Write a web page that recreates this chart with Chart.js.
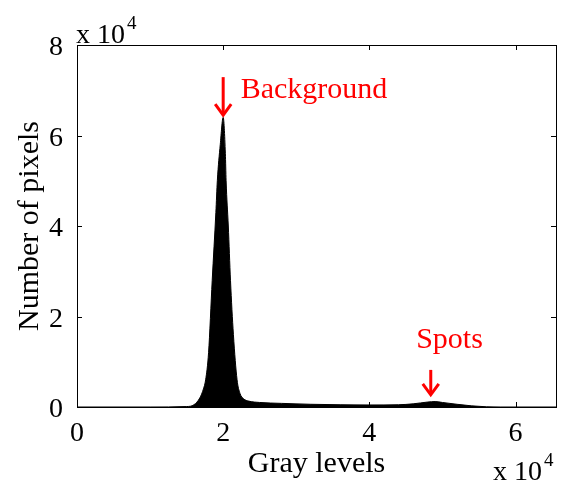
<!DOCTYPE html>
<html>
<head>
<meta charset="utf-8">
<script src="https://cdn.jsdelivr.net/npm/chart.js@4.4.0/dist/chart.umd.min.js"></script>
<style>
  html, body { margin: 0; padding: 0; background: #fff; }
  #wrap { width: 564px; height: 484px; }
</style>
</head>
<body>
<div id="wrap"><canvas id="histChart"></canvas></div>
<script>
// histogram of gray levels
const grayLevels = [0, 10000, 15000, 16000, 16800, 17300, 17600, 18000, 18500, 19000, 19200, 19600, 20000,
    20300, 20400, 20700, 21000, 21400, 21900, 22300, 22800, 23500, 25000, 28000, 32000, 36000, 40000,
    44000, 46000, 48000, 49000, 50000, 52000, 54000, 56000, 58000, 65535];
const pixelCounts = [0, 0, 100, 500, 2000, 4000, 6000, 12000, 28000, 43000, 50000, 58000, 64000,
    56000, 50000, 40000, 28000, 16000, 6000, 3000, 1800, 1300, 1000, 800, 600, 500, 450,
    500, 700, 1100, 1200, 1000, 600, 250, 50, 0, 0];

const xTicks = [0, 20000, 40000, 60000];
const yTicks = [0, 20000, 40000, 60000, 80000];

// annotations: label, text anchor (x, y) and arrow from (x, y1) to (x, y2), data units
const noteLabels = ['Background', 'Spots'];
const noteTextX = [22400, 46400];
const noteTextY = [68300, 13000];
const noteArrowX = [20000, 48400];
const noteArrowFrom = [72900, 8200];
const noteArrowTo = [64500, 2700];

const serif = '"Liberation Serif", "Times New Roman", serif';

const matlabFrame = {
    id: 'matlabFrame',
    afterDraw(chart) {
        const ctx = chart.ctx;
        const a = chart.chartArea;
        const xs = chart.scales.x, ys = chart.scales.y;
        ctx.save();
        ctx.strokeStyle = '#000';
        ctx.lineWidth = 1;
        ctx.strokeRect(Math.round(a.left) + 0.5, Math.round(a.top) + 0.5,
            Math.round(a.right - a.left), Math.round(a.bottom - a.top));

        // inward ticks
        ctx.beginPath();
        xTicks.forEach(v => {
            const px = Math.round(xs.getPixelForValue(v)) + 0.5;
            ctx.moveTo(px, a.bottom); ctx.lineTo(px, a.bottom - 5);
            ctx.moveTo(px, a.top); ctx.lineTo(px, a.top + 5);
        });
        yTicks.forEach(v => {
            const py = Math.round(ys.getPixelForValue(v)) + 0.5;
            ctx.moveTo(a.left, py); ctx.lineTo(a.left + 5, py);
            ctx.moveTo(a.right, py); ctx.lineTo(a.right - 5, py);
        });
        ctx.stroke();

        // exponent labels
        ctx.fillStyle = '#000';
        ctx.textBaseline = 'alphabetic';
        ctx.textAlign = 'left';
        ctx.font = '28px ' + serif;
        ctx.fillText('x 10', a.left - 1, a.top - 2);
        let w = ctx.measureText('x 10').width;
        ctx.font = '19px ' + serif;
        ctx.fillText('4', a.left - 1 + w + 2, a.top - 16);

        ctx.font = '28px ' + serif;
        ctx.fillText('x 10', a.right - 63, chart.height - 4);
        w = ctx.measureText('x 10').width;
        ctx.font = '19px ' + serif;
        ctx.fillText('4', a.right - 63 + w + 2, chart.height - 18);

        // red annotations
        ctx.fillStyle = '#ff0000';
        ctx.strokeStyle = '#ff0000';
        ctx.font = '30px ' + serif;
        noteLabels.forEach((txt, i) => {
            ctx.fillText(txt, xs.getPixelForValue(noteTextX[i]), ys.getPixelForValue(noteTextY[i]));
            const ax = xs.getPixelForValue(noteArrowX[i]);
            const y1 = ys.getPixelForValue(noteArrowFrom[i]);
            const y2 = ys.getPixelForValue(noteArrowTo[i]);
            ctx.lineWidth = 3;
            ctx.beginPath();
            ctx.moveTo(ax, y1); ctx.lineTo(ax, y2 - 2);
            ctx.stroke();
            ctx.beginPath();
            ctx.moveTo(ax - 8, y2 - 11); ctx.lineTo(ax, y2); ctx.lineTo(ax + 8, y2 - 11);
            ctx.stroke();
        });
        ctx.restore();
    }
};

new Chart(document.getElementById('histChart'), {
    type: 'line',
    data: {
        datasets: [{
            label: 'Histogram',
            data: grayLevels.map((g, i) => ({ x: g, y: pixelCounts[i] })),
            borderColor: '#000',
            backgroundColor: '#000',
            borderWidth: 1,
            fill: 'origin',
            pointRadius: 0,
            cubicInterpolationMode: 'monotone'
        }]
    },
    options: {
        responsive: true,
        maintainAspectRatio: false,
        animation: false,
        events: [],
        layout: { padding: { left: 0, top: 45, right: 8, bottom: 0 } },
        plugins: { legend: { display: false }, tooltip: { enabled: false } },
        scales: {
            x: {
                type: 'linear',
                min: 0,
                max: 65535,
                afterBuildTicks: s => { s.ticks = xTicks.map(v => ({ value: v })); },
                afterFit: s => { s.height = 77; },
                grid: { display: false },
                border: { display: false },
                ticks: {
                    color: '#000',
                    font: { family: serif, size: 28 },
                    padding: 2,
                    maxRotation: 0,
                    callback: v => String(v / 10000)
                },
                title: {
                    display: true,
                    text: 'Gray levels',
                    color: '#000',
                    font: { family: serif, size: 30 },
                    padding: { top: 0, bottom: 2 }
                }
            },
            y: {
                min: 0,
                max: 80000,
                afterBuildTicks: s => { s.ticks = yTicks.map(v => ({ value: v })); },
                afterFit: s => { s.width = 77; },
                grid: { display: false },
                border: { display: false },
                ticks: {
                    color: '#000',
                    font: { family: serif, size: 28 },
                    padding: 6,
                    labelOffset: 3,
                    callback: v => String(v / 10000)
                },
                title: {
                    display: true,
                    text: 'Number of pixels',
                    color: '#000',
                    font: { family: serif, size: 30 },
                    padding: { top: 12, bottom: 0 }
                }
            }
        }
    },
    plugins: [matlabFrame]
});
</script>
</body>
</html>
